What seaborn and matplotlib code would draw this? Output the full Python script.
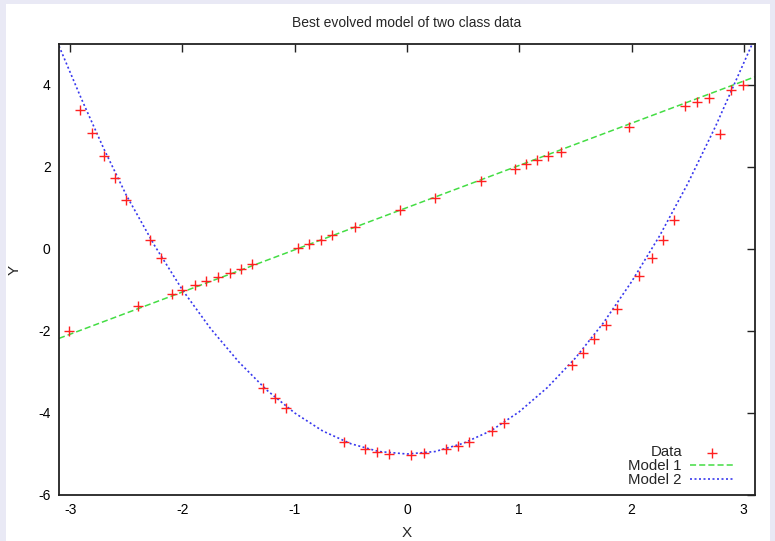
import matplotlib
matplotlib.use("Agg")
import matplotlib.pyplot as plt
import seaborn as sns
from matplotlib.patches import Rectangle

# --- dados ---
data_x = [-3.01, -2.91, -2.81, -2.70, -2.60, -2.50, -2.40, -2.29, -2.19, -2.09,
          -2.00, -1.89, -1.79, -1.68, -1.58, -1.48, -1.38, -1.28, -1.18, -1.08,
          -0.97, -0.87, -0.77, -0.67, -0.56, -0.46, -0.37, -0.27, -0.16, -0.06,
          0.04, 0.15, 0.25, 0.35, 0.45, 0.55, 0.66, 0.76, 0.86, 0.96,
          1.06, 1.16, 1.26, 1.37, 1.47, 1.57, 1.67, 1.77, 1.87, 1.98,
          2.07, 2.18, 2.28, 2.38, 2.48, 2.58, 2.69, 2.79, 2.89, 2.99]
data_y = [-2.01, 3.40, 2.82, 2.26, 1.73, 1.20, -1.40, 0.23, -0.22, -1.09,
          -0.99, -0.89, -0.79, -0.68, -0.58, -0.48, -0.36, -3.39, -3.64, -3.88,
          0.03, 0.13, 0.23, 0.33, -4.70, 0.54, -4.88, -4.95, -4.99, 0.95,
          -5.02, -4.98, 1.25, -4.88, -4.81, -4.70, 1.65, -4.44, -4.25, 1.96,
          2.07, 2.18, 2.27, 2.37, -2.82, -2.53, -2.19, -1.85, -1.46, 2.98,
          -0.67, -0.23, 0.22, 0.71, 3.49, 3.58, 3.68, 2.80, 3.89, 4.00]

model1_x = [-3.1, 3.1]
model1_y = [-2.18, 4.20]

model2_x = [-3.10, -2.90, -2.70, -2.50, -2.25, -2.00, -1.75, -1.50, -1.25, -1.00,
            -0.75, -0.50, -0.25, 0.00, 0.25, 0.50, 0.75, 1.00, 1.25, 1.50,
            1.75, 2.00, 2.25, 2.50, 2.75, 3.00, 3.075]
model2_y = [4.95, 3.66, 2.44, 1.31, 0.09, -1.00, -1.94, -2.75, -3.44, -4.00,
            -4.44, -4.75, -4.94, -5.00, -4.94, -4.74, -4.43, -3.97, -3.38, -2.66,
            -1.80, -0.80, 0.32, 1.59, 3.00, 4.54, 5.00]

x_ticks = [-3, -2, -1, 0, 1, 2, 3]
y_ticks = [-6, -4, -2, 0, 2, 4]

sns.set_style("white")
plt.rcParams["font.family"] = ["Liberation Sans", "DejaVu Sans"]
plt.rcParams["axes.unicode_minus"] = False

fig = plt.figure(figsize=(7.75, 5.41), dpi=100, facecolor="#e9e9f5")
# painel branco por tras do grafico
fig.patches.append(Rectangle((6 / 775, 0), 764 / 775, 537 / 541, transform=fig.transFigure,
                             facecolor="white", edgecolor="none", zorder=-5))
ax = fig.add_axes([59 / 775, 46 / 541, 696 / 775, 451 / 541])
ax.set_facecolor("white")

sns.scatterplot(x=data_x, y=data_y, marker="+", color="#ff2020", s=45, linewidth=1.0,
                label="Data", ax=ax, zorder=4)
sns.lineplot(x=model1_x, y=model1_y, color="#44dd44", linestyle=(0, (4, 2)), linewidth=1.1,
             label="Model 1", ax=ax, sort=False)
sns.lineplot(x=model2_x, y=model2_y, color="#3838ee", linestyle=(0, (1.2, 1.5)), linewidth=1.2,
             label="Model 2", ax=ax, sort=False)

ax.set_xlim(-3.1, 3.1)
ax.set_ylim(-6, 5)
ax.set_xticks(x_ticks)
ax.set_yticks(y_ticks)
ax.tick_params(direction="in", length=6, width=1, colors="#222222", labelsize=10,
               top=True, right=True, labelcolor="black", pad=6)
for s in ax.spines.values():
    s.set_linewidth(1.3)
    s.set_color("#222222")

ax.set_title("Best evolved model of two class data", fontsize=10, pad=12)
ax.set_xlabel("X", fontsize=11, labelpad=6)
ax.set_ylabel("Y", fontsize=11, labelpad=12)

ax.legend(loc="lower right", bbox_to_anchor=(1 - 10 / 696, -3 / 451), frameon=False,
          markerfirst=False, fontsize=10.8, handlelength=3.0, handletextpad=0.5,
          labelspacing=0.0, borderaxespad=0.3, scatterpoints=1)

fig.savefig("out.png", dpi=100, facecolor=fig.get_facecolor())
